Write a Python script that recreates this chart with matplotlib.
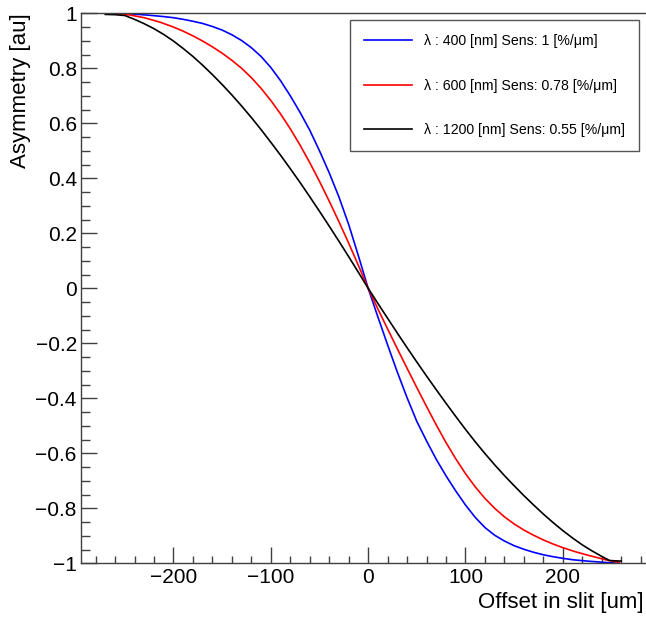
import matplotlib
matplotlib.use("Agg")
import matplotlib.pyplot as plt
from matplotlib.ticker import MultipleLocator, FixedLocator, FixedFormatter

plt.rcParams['font.family'] = ['Liberation Sans', 'DejaVu Sans']

# ---- data ----
x_400 = [-269, -258, -240, -225, -210, -200, -190, -180, -170, -160, -150, -140, -130, -120, -110,
         -100, -90, -80, -70, -60, -50, -40, -30, -20, -10, 0,
         10, 20, 30, 40, 50, 60, 70, 80, 90, 100, 110, 120, 130, 140, 150, 160, 170, 180,
         190, 200, 210, 225, 240, 258]
y_400 = [1.0, 1.0, 0.997, 0.993, 0.988, 0.984, 0.978, 0.971, 0.963, 0.952, 0.939, 0.922, 0.901, 0.875, 0.843,
         0.803, 0.755, 0.700, 0.640, 0.575, 0.500, 0.420, 0.332, 0.232, 0.118, 0.0,
         -0.104, -0.206, -0.305, -0.398, -0.484, -0.555, -0.622, -0.682, -0.737, -0.788, -0.833, -0.870,
         -0.898, -0.919, -0.936, -0.949, -0.960, -0.969, -0.976, -0.982, -0.987, -0.992, -0.996, -1.0]

x_600 = [-270, -258, -245, -230, -214, -200, -190, -180, -170, -160, -150, -140, -130, -120, -110,
         -100, -90, -80, -70, -60, -50, -40, -30, -20, -10, 0,
         10, 20, 30, 40, 50, 60, 70, 80, 90, 100, 110, 120, 130, 140, 150, 160, 170, 180,
         190, 200, 212, 224, 235, 245, 258]
y_600 = [0.999, 0.998, 0.994, 0.984, 0.968, 0.950, 0.935, 0.918, 0.899, 0.878, 0.855, 0.829, 0.800, 0.766, 0.727,
         0.683, 0.634, 0.580, 0.521, 0.457, 0.389, 0.317, 0.242, 0.164, 0.083, 0.0,
         -0.075, -0.148, -0.22, -0.291, -0.361, -0.43, -0.497, -0.561, -0.62, -0.674, -0.722, -0.764,
         -0.80, -0.831, -0.857, -0.879, -0.898, -0.915, -0.93, -0.943, -0.957, -0.969, -0.979, -0.988, -0.997]

x_1200 = [-270, -260, -250, -240, -230, -220, -210, -200, -190, -180, -170, -160, -150, -140, -130,
          -120, -110, -100, -90, -80, -70, -60, -50, -40, -30, -20, -10, 0,
          10, 20, 30, 40, 50, 60, 70, 80, 90, 100, 110, 120, 130, 140, 150, 160, 170, 180,
          190, 200, 210, 220, 230, 240, 248, 260]
y_1200 = [0.996, 0.995, 0.992, 0.978, 0.962, 0.944, 0.923, 0.899, 0.872, 0.843, 0.811, 0.777, 0.741, 0.703, 0.663,
          0.621, 0.577, 0.531, 0.484, 0.435, 0.385, 0.333, 0.28, 0.226, 0.171, 0.115, 0.058, 0.0,
          -0.055, -0.109, -0.163, -0.216, -0.268, -0.319, -0.369, -0.418, -0.466, -0.513, -0.558, -0.601,
          -0.642, -0.681, -0.718, -0.754, -0.788, -0.821, -0.852, -0.881, -0.908, -0.933, -0.955, -0.975,
          -0.99, -0.992]

labels = ["\u03bb : 400 [nm] Sens: 1 [%/\u03bcm]",
          "\u03bb : 600 [nm] Sens: 0.78 [%/\u03bcm]",
          "\u03bb : 1200 [nm] Sens: 0.55 [%/\u03bcm]"]
colors = ["#0000ff", "#ff0000", "#000000"]

xticks = [-200, -100, 0, 100, 200]
xticklabels = ["\u2212200", "\u2212100", "0", "100", "200"]
yticks = [-1, -0.8, -0.6, -0.4, -0.2, 0, 0.2, 0.4, 0.6, 0.8, 1]
yticklabels = ["\u22121", "\u22120.8", "\u22120.6", "\u22120.4", "\u22120.2", "0",
               "0.2", "0.4", "0.6", "0.8", "1"]

W, H = 646, 617
fig = plt.figure(figsize=(W / 100, H / 100), dpi=100)
fig.patch.set_facecolor('white')

ax_left, ax_right, ax_bottom, ax_top = 81, 655.3, 563.3, 13.3
ax = fig.add_axes([ax_left / W, 1 - ax_bottom / H, (ax_right - ax_left) / W, (ax_bottom - ax_top) / H])

ax.plot(x_400, y_400, color=colors[0], lw=1.2, label=labels[0])
ax.plot(x_600, y_600, color=colors[1], lw=1.2, label=labels[1])
ax.plot(x_1200, y_1200, color=colors[2], lw=1.2, label=labels[2])

ax.set_xlim(-295, 295)
ax.set_ylim(-1, 1)

ax.xaxis.set_major_locator(FixedLocator(xticks))
ax.xaxis.set_major_formatter(FixedFormatter(xticklabels))
ax.xaxis.set_minor_locator(MultipleLocator(20))
ax.yaxis.set_major_locator(FixedLocator(yticks))
ax.yaxis.set_major_formatter(FixedFormatter(yticklabels))
ax.yaxis.set_minor_locator(MultipleLocator(0.05))

axcol = '#404040'
for s in ax.spines.values():
    s.set_color(axcol)
    s.set_linewidth(1.0)

ax.tick_params(axis='both', which='both', direction='in', color=axcol, width=1.0,
               top=False, right=False)
ax.tick_params(axis='x', which='major', length=11.5, pad=3.5, labelsize=15)
ax.tick_params(axis='x', which='minor', length=5)
ax.tick_params(axis='y', which='major', length=11.5, pad=3, labelsize=15)
ax.tick_params(axis='y', which='minor', length=6.5)

ax.set_ylabel("Asymmetry [au]", fontsize=16, loc='top')
ax.yaxis.set_label_coords(-0.087, 1.0)

fig.text(644 / W, 1 - 608 / H, "Offset in slit [um]", fontsize=16, ha='right', va='baseline')

leg = ax.legend(loc='upper right', bbox_to_anchor=(639 / W, 1 - 20 / H),
                bbox_transform=fig.transFigure, borderaxespad=0,
                fontsize=10.2, labelspacing=2.15, borderpad=1.0,
                handlelength=3.4, handletextpad=0.8, fancybox=False,
                framealpha=1, edgecolor='#555555')
leg.get_frame().set_linewidth(1.0)

fig.savefig("out.png", dpi=100, facecolor='white')
